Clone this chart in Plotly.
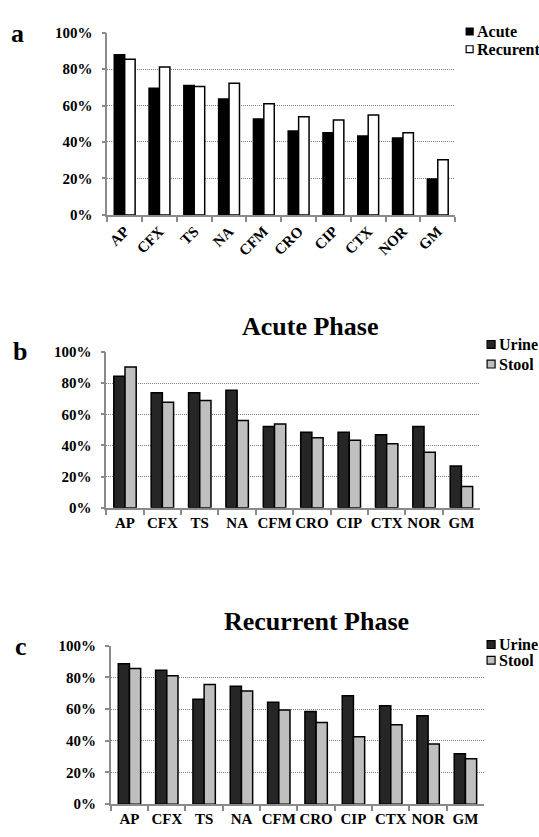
import plotly.graph_objects as go

categories = ["AP", "CFX", "TS", "NA", "CFM", "CRO", "CIP", "CTX", "NOR", "GM"]

# Panel a: Acute vs Recurrent
acute = [0.878, 0.695, 0.709, 0.636, 0.526, 0.460, 0.451, 0.433, 0.422, 0.197]
recurent = [0.853, 0.811, 0.704, 0.722, 0.609, 0.539, 0.521, 0.548, 0.451, 0.303]

# Panel b: Acute phase, urine vs stool
acute_urine = [0.845, 0.738, 0.738, 0.755, 0.522, 0.484, 0.484, 0.468, 0.521, 0.268]
acute_stool = [0.904, 0.677, 0.688, 0.560, 0.537, 0.449, 0.434, 0.411, 0.357, 0.137]

# Panel c: Recurrent phase, urine vs stool
rec_urine = [0.885, 0.844, 0.661, 0.743, 0.643, 0.585, 0.684, 0.620, 0.558, 0.318]
rec_stool = [0.856, 0.809, 0.754, 0.713, 0.593, 0.515, 0.425, 0.501, 0.380, 0.286]

y_ticks = [0, 0.2, 0.4, 0.6, 0.8, 1.0]
y_ticktext = ["0%", "20%", "40%", "60%", "80%", "100%"]

W, H = 539, 837
FONT = "Times New Roman, Liberation Serif, serif"


def px(x):
    return x / W


def py(y):
    return 1 - y / H


fig = go.Figure()

panels = [
    ("x", "y", [("Acute", acute, "#000000"), ("Recurent", recurent, "#ffffff")]),
    ("x2", "y2", [("Urine", acute_urine, "#262626"), ("Stool", acute_stool, "#bfbfbf")]),
    ("x3", "y3", [("Urine", rec_urine, "#262626"), ("Stool", rec_stool, "#bfbfbf")]),
]
for xa, ya, series in panels:
    for name, vals, col in series:
        fig.add_trace(go.Bar(
            x=categories, y=vals, name=name, xaxis=xa, yaxis=ya,
            marker=dict(color=col, line=dict(color="#000000", width=1.5)),
            showlegend=False, hovertemplate="%{x}: %{y:.0%}<extra>" + name + "</extra>",
        ))

domains = [
    ((106.5, 455), (211, 25)),
    ((105.5, 480), (509.5, 350.7)),
    ((110, 484), (811.7, 650)),
]

axis_common_y = dict(
    range=[0, 1], tickvals=y_ticks, ticktext=y_ticktext,
    showgrid=True, gridcolor="#7f7f7f", griddash="1px,1px", gridwidth=1,
    showline=True, linecolor="#8a8a8a", linewidth=1.5,
    ticks="outside", ticklen=4, tickcolor="#8a8a8a", tickwidth=1.5,
    zeroline=False, fixedrange=True,
    tickfont=dict(family=FONT, size=15, color="#000000", weight="bold"),
    ticklabelstandoff=6,
)
axis_common_x = dict(
    showgrid=False, showline=True, linecolor="#8a8a8a", linewidth=1.5,
    ticks="outside", ticklen=5, tickcolor="#8a8a8a", tickwidth=1.5,
    tickson="boundaries", fixedrange=True,
    tickfont=dict(family=FONT, size=15, color="#000000", weight="bold"),
)

layout = dict(
    width=W, height=H, margin=dict(l=0, r=0, t=0, b=0),
    paper_bgcolor="white", plot_bgcolor="white",
    barmode="group", bargap=0.4, bargroupgap=0,
    showlegend=False,
)
for i, ((x0, x1), (yb, yt)) in enumerate(domains):
    sfx = "" if i == 0 else str(i + 1)
    xa = dict(axis_common_x, domain=[px(x0), px(x1)], anchor="y" + sfx)
    xa["tickangle"] = -45 if i == 0 else 0
    layout["xaxis" + sfx] = xa
    layout["yaxis" + sfx] = dict(axis_common_y, domain=[py(yb), py(yt)], anchor="x" + sfx)

fig.update_layout(**layout)

annotations = []
shapes = []

# panel letters
for letter, (x, y) in zip(["a", "b", "c"], [(17, 26), (19, 350), (20, 651)]):
    annotations.append(dict(text="<b>" + letter + "</b>", x=px(x), y=py(y), xref="paper", yref="paper",
                            showarrow=False, xanchor="center", yanchor="middle",
                            font=dict(family=FONT, size=26, color="#000000")))

# titles
for t, (x, y) in [("Acute Phase", (310, 325)), ("Recurrent Phase", (316, 625))]:
    annotations.append(dict(text="<b>" + t + "</b>", x=px(x), y=py(y), xref="paper", yref="paper",
                            showarrow=False, xanchor="center", yanchor="middle",
                            font=dict(family=FONT, size=26, color="#000000")))

# legends (swatch squares + labels)
legend_specs = [
    ((466, 473), 475, [("Acute", "#000000", 24), ("Recurent", "#ffffff", 42)]),
    ((487, 495), 497, [("Urine", "#262626", 343), ("Stool", "#bfbfbf", 363)]),
    ((487, 495), 497, [("Urine", "#262626", 649), ("Stool", "#bfbfbf", 665)]),
]
for (sx0, sx1), tx, items in legend_specs:
    for name, col, yc in items:
        half = (sx1 - sx0) / 2
        shapes.append(dict(type="rect", xref="paper", yref="paper",
                           x0=px(sx0), x1=px(sx1), y0=py(yc + half), y1=py(yc - half),
                           fillcolor=col, line=dict(color="#000000", width=1.2)))
        annotations.append(dict(text="<b>" + name + "</b>", x=px(tx), y=py(yc), xref="paper", yref="paper",
                                showarrow=False, xanchor="left", yanchor="middle",
                                font=dict(family=FONT, size=16, color="#000000")))

fig.update_layout(annotations=annotations, shapes=shapes)

fig.write_html(
    "out.html",
    config={"displayModeBar": False},
    post_script="document.body.style.margin='0';document.body.style.padding='0';"
                "document.body.style.overflow='hidden';",
)
